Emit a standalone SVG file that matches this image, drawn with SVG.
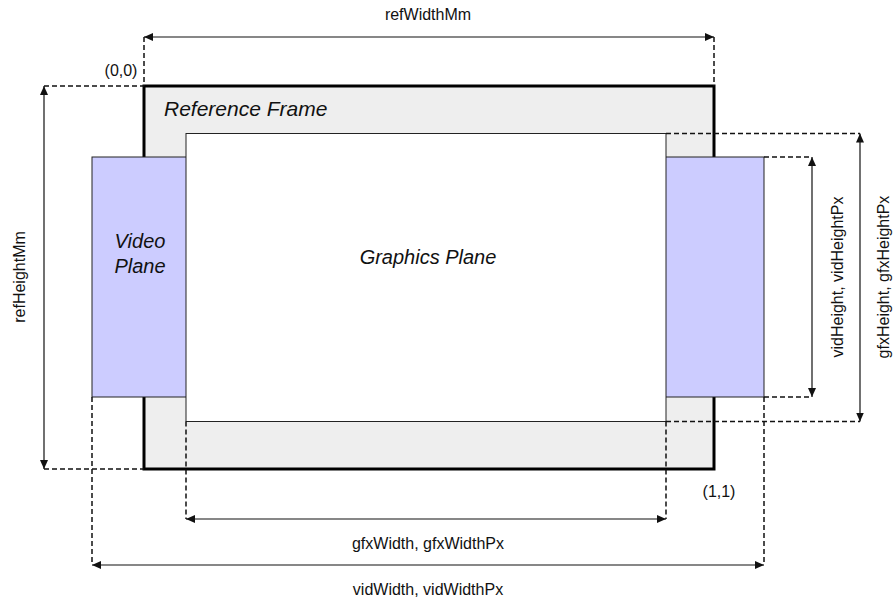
<svg xmlns="http://www.w3.org/2000/svg" width="893" height="598" viewBox="0 0 893 598">
<style>
text{font-family:"Liberation Sans",Arial,sans-serif;fill:#111}
.lbl{font-size:16px}
.big{font-size:20px;font-style:italic}
.dash{stroke:#111;stroke-width:1.5;stroke-dasharray:5,3;fill:none}
.dim{stroke:#111;stroke-width:1.2;fill:none;marker-start:url(#ah);marker-end:url(#ah)}
</style>
<defs>
<marker id="ah" viewBox="0 0 9 8" refX="9" refY="4" markerWidth="9" markerHeight="8" markerUnits="userSpaceOnUse" orient="auto-start-reverse">
<path d="M0,0 L9,4 L0,8 z" fill="#111"/>
</marker>
</defs>
<g id="referenceFrame">
<rect x="144" y="86" width="570" height="383" fill="#eeeeee" stroke="#000" stroke-width="3"/>
<text class="big" x="164" y="116" style="font-size:21px">Reference Frame</text>
</g>
<g id="videoPlane">
<rect x="92" y="157" width="672" height="240" fill="#ccccff" stroke="#222" stroke-width="1"/>
<text class="big" x="140" y="248" text-anchor="middle">Video</text>
<text class="big" x="140" y="273" text-anchor="middle">Plane</text>
</g>
<g id="graphicsPlane">
<rect x="186" y="133.5" width="480" height="288" fill="#ffffff" stroke="#222" stroke-width="1"/>
<text class="big" x="428" y="264" text-anchor="middle">Graphics Plane</text>
</g>
<g id="connectors">
<path class="dash" d="M144,37 V86 M714,37 V86 M44,86 H144 M44,469 H144 M666,133.5 H860 M666,421.5 H860 M764,157 H812 M764,397 H812 M186,421.5 V519 M666,421.5 V519 M92,397 V565 M764,397 V565"/>
<line class="dim" x1="144" y1="37" x2="714" y2="37"/>
<line class="dim" x1="44" y1="86" x2="44" y2="469"/>
<line class="dim" x1="812" y1="157" x2="812" y2="397"/>
<line class="dim" x1="860" y1="133.5" x2="860" y2="421.5"/>
<line class="dim" x1="186" y1="519" x2="666" y2="519"/>
<line class="dim" x1="92" y1="565" x2="764" y2="565"/>
</g>
<g id="labels">
<text class="lbl" x="428" y="20" text-anchor="middle">refWidthMm</text>
<text class="lbl" x="121" y="76" text-anchor="middle">(0,0)</text>
<text class="lbl" x="719" y="497" text-anchor="middle">(1,1)</text>
<text class="lbl" x="428" y="549" text-anchor="middle">gfxWidth, gfxWidthPx</text>
<text class="lbl" x="428" y="595" text-anchor="middle">vidWidth, vidWidthPx</text>
<text class="lbl" transform="translate(25,277) rotate(-90)" text-anchor="middle">refHeightMm</text>
<text class="lbl" transform="translate(843,277) rotate(-90)" text-anchor="middle">vidHeight, vidHeightPx</text>
<text class="lbl" transform="translate(889,277) rotate(-90)" text-anchor="middle">gfxHeight, gfxHeightPx</text>
</g>
</svg>
